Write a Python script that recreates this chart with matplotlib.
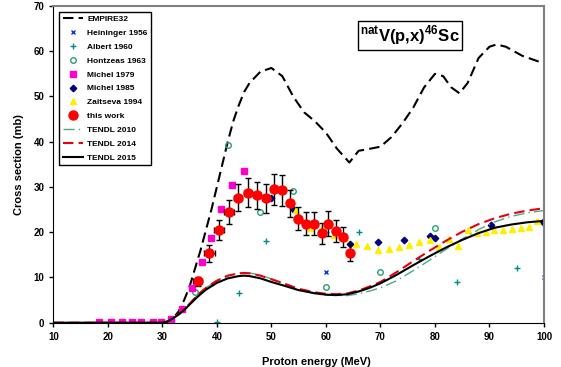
import numpy as np
import matplotlib
matplotlib.use('Agg')
import matplotlib.pyplot as plt
from matplotlib.lines import Line2D

plt.rcParams['font.family'] = ['Liberation Sans', 'DejaVu Sans']
plt.rcParams['font.weight'] = 'bold'
plt.rcParams['mathtext.fontset'] = 'custom'
plt.rcParams['mathtext.rm'] = 'Liberation Sans:bold'
plt.rcParams['mathtext.bf'] = 'Liberation Sans:bold'

# EMPIRE 3.2 calculation
emp_e = [30, 31, 32, 33, 34, 35, 36, 37, 38, 39, 40, 41, 42, 43, 44, 45, 46, 48, 50, 52, 54, 56, 58,
         60, 62, 64.3, 66, 67, 70, 72, 74, 76, 78, 80, 81.5, 83, 84.5, 86, 88, 90, 91.3, 93, 96, 100]
emp_y = [0, 0.2, 1, 2.5, 5, 8, 12, 16, 20.5, 25, 30, 35, 40, 44.5, 48, 51, 53, 55.5, 56.3, 54.5, 50,
         46.5, 44.5, 42, 38.5, 35.4, 38, 38.2, 38.9, 41, 44, 47.5, 52, 55, 54.5, 52, 50.7, 53, 58.5,
         61, 61.5, 61, 59, 57.3]

# TENDL libraries
tendl_e = [10, 30, 31, 32, 33, 34, 35, 36, 37, 38, 40, 42, 44, 45, 46, 48, 50, 52, 55, 58, 60, 62,
           64, 66, 68, 70, 73, 76, 79, 82, 85, 88, 91, 94, 97, 100]
tendl15 = [0, 0, 0.3, 1, 1.8, 2.8, 4, 5.2, 6.3, 7.3, 8.8, 9.8, 10.3, 10.4, 10.3, 9.8, 9.0, 8.3, 7.2,
           6.5, 6.2, 6.1, 6.3, 6.9, 7.7, 8.7, 10.6, 12.7, 14.7, 16.6, 18.3, 19.8, 21.0, 21.7, 22.2, 22.5]
tendl14 = [0, 0, 0.3, 1.1, 1.9, 3.0, 4.2, 5.5, 6.7, 7.7, 9.3, 10.4, 10.9, 11.0, 10.9, 10.4, 9.6, 8.8,
           7.5, 6.7, 6.4, 6.3, 6.5, 7.1, 8.0, 9.0, 11.2, 13.6, 15.9, 18.1, 20.1, 21.8, 23.1, 24.1, 24.8, 25.3]
tendl10 = [0, 0, 0.3, 1.1, 1.9, 3.0, 4.2, 5.5, 6.7, 7.7, 9.3, 10.4, 10.9, 11.0, 11.0, 10.5, 9.7, 8.8,
           7.3, 6.4, 6.1, 6.0, 6.0, 6.4, 7.0, 7.7, 9.3, 11.5, 13.8, 16.2, 18.5, 20.6, 22.3, 23.5, 24.3, 24.8]

# literature data
hein_e = [60.0, 100.0]
hein_y = [11.1, 10.2]
albert_e = [40.0, 44.1, 49.0, 60.0, 66.1, 77.0, 84.0, 95.0]
albert_y = [0.2, 6.5, 18.1, 20.0, 20.1, 14.1, 9.0, 12.0]
hontz_e = [36.0, 42.1, 48.0, 54.0, 60.0, 70.0, 80.0]
hontz_y = [6.8, 39.3, 24.4, 29.0, 8.0, 11.3, 20.9]
mich79_e = [18.4, 20.6, 22.6, 24.5, 26.1, 28.2, 29.7, 31.6, 33.6, 35.4, 37.2, 38.9, 40.8, 42.7, 44.9]
mich79_y = [0.1, 0.1, 0.1, 0.1, 0.1, 0.15, 0.15, 0.8, 3.0, 7.6, 13.4, 18.7, 25.1, 30.4, 33.5]
mich85_e = [49.9, 54.0, 64.5, 69.6, 74.3, 79.0, 80.0, 90.2, 99.9]
mich85_y = [27.6, 25.1, 17.4, 17.9, 18.3, 19.2, 18.8, 21.6, 22.2]
zait_e = [54.6, 57.0, 59.2, 61.4, 63.5, 65.5, 67.5, 69.5, 71.5, 73.4, 75.3, 77.1, 79.0, 80.8, 82.5,
          84.3, 86.0, 87.7, 89.3, 90.9, 92.5, 94.1, 95.7, 97.2, 98.7]
zait_y = [24.8, 20.9, 20.9, 19.4, 18.7, 17.5, 17.0, 16.1, 16.4, 16.8, 17.2, 17.8, 18.3, 16.7, 18.5,
          17.0, 20.4, 19.9, 20.0, 20.4, 20.5, 20.6, 20.9, 21.2, 22.4]

# this work
work_e = [36.5, 38.6, 40.4, 42.2, 43.9, 45.7, 47.3, 49.0, 50.5, 52.0, 53.5, 54.9, 56.4, 57.8, 59.2,
          60.4, 61.8, 63.1, 64.4]
work_y = [9.2, 15.3, 20.5, 24.5, 27.6, 28.7, 28.2, 27.5, 29.5, 29.3, 26.4, 23.0, 21.9, 21.9, 19.8,
          21.9, 20.3, 18.9, 15.5]
work_dy = [1.0, 1.8, 2.2, 2.6, 3.0, 3.2, 3.0, 3.2, 3.4, 3.4, 3.0, 2.6, 2.5, 2.5, 2.3, 2.7, 2.4, 2.2, 1.8]
work_dx = [0.8, 1.0, 1.0, 0.9, 0.8, 0.7, 0.6, 0.6, 0.5, 0.5, 0.5, 0.5, 0.4, 0.4, 0.4, 0.4, 0.4, 0.4, 0.4]

fig = plt.figure(figsize=(5.61, 3.67), dpi=100)
ax = fig.add_axes([53.3 / 561, 1 - 322.7 / 367, 490.7 / 561, 316.7 / 367])

h = []
h += ax.plot(emp_e, emp_y, color='black', lw=1.5, dashes=(5, 2.5), label='EMPIRE32')
h += ax.plot(hein_e, hein_y, 'x', color='#0033ff', ms=3.5, mew=1, label='Heininger 1956')
h += ax.plot(albert_e, albert_y, '+', color='#008b8b', ms=4, mew=1, label='Albert 1960')
h += ax.plot(hontz_e, hontz_y, 'o', mfc='none', mec='#2e9e6e', ms=4, mew=1, label='Hontzeas 1963')
h += ax.plot(mich79_e, mich79_y, 's', color='#ff00cc', ms=4.5, label='Michel 1979')
h += ax.plot(mich85_e, mich85_y, 'D', color='#000080', ms=3.3, label='Michel 1985')
h += ax.plot(zait_e, zait_y, '^', color='#ffee00', ms=4.5, label='Zaitseva 1994')
ax.errorbar(work_e, work_y, yerr=work_dy, xerr=work_dx, fmt='o', color='red', ms=6.5,
            ecolor='black', elinewidth=1, capsize=2.2, capthick=1, zorder=5)
h.append(Line2D([], [], ls='none', marker='o', color='red', ms=6.5, label='this work'))
h += ax.plot(tendl_e, tendl10, color='#4fa88a', lw=1, linestyle=(0, (8, 3, 1, 3)), label='TENDL 2010')
h += ax.plot(tendl_e, tendl14, color='#e8000b', lw=1.5, dashes=(5, 2.5), label='TENDL 2014')
h += ax.plot(tendl_e, tendl15, color='black', lw=1.5, label='TENDL 2015')

ax.set_xlim(10, 100)
ax.set_ylim(0, 70)
ax.set_xticks(np.arange(10, 101, 10))
ax.set_yticks(np.arange(0, 71, 10))
ax.tick_params(labelsize=7, length=3, width=1)
ax.set_xlabel('Proton energy (MeV)', fontsize=8, fontweight='bold')
ax.set_ylabel('Cross section (mb)', fontsize=8, fontweight='bold')
ax.xaxis.set_label_coords(0.537, -0.108)
ax.yaxis.set_label_coords(-0.06, 0.5)
for s in ['top', 'right']:
    ax.spines[s].set_color('#808080')
    ax.spines[s].set_linewidth(1.5)

leg = ax.legend(handles=h, loc='upper left', bbox_to_anchor=(0.012, 0.982), fontsize=6,
                fancybox=False, edgecolor='black', framealpha=1, handlelength=2.4,
                labelspacing=0.72, borderpad=0.45, handletextpad=0.5, borderaxespad=0)
leg.get_frame().set_linewidth(1)

ax.text(0.727, 0.907, r'$^{\mathrm{nat}}$V(p,x)$^{\mathrm{46}}$Sc', transform=ax.transAxes,
        fontsize=12, fontweight='bold', ha='center', va='center',
        bbox=dict(boxstyle='square,pad=0.15', fc='white', ec='black', lw=1))

fig.savefig('out.png', dpi=100)
